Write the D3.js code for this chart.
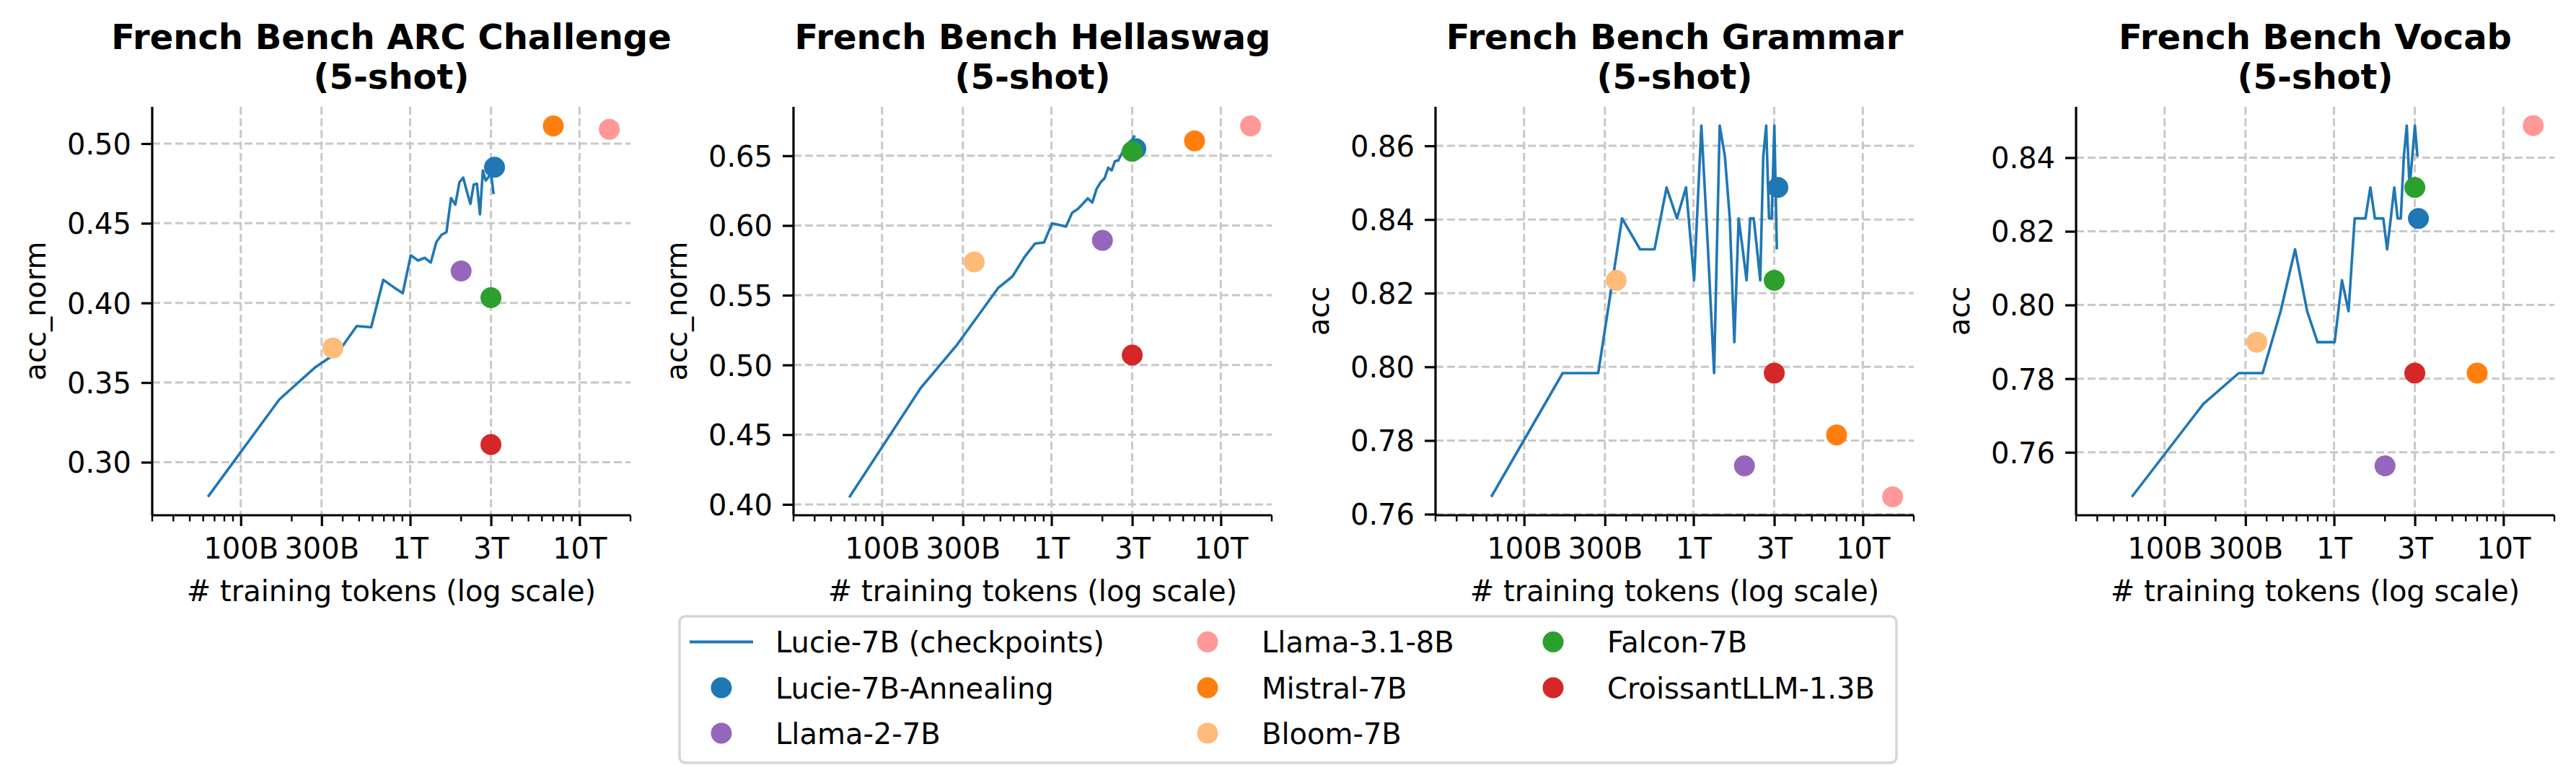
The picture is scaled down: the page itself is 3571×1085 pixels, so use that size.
<!DOCTYPE html>
<html>
<head>
<meta charset="utf-8">
<script src="https://cdn.jsdelivr.net/npm/d3@7"></script>
<style>
  body { margin: 0; background: #fff; }
  text { font-family: "DejaVu Sans", sans-serif; fill: #000; }
</style>
</head>
<body>
<svg id="chart" width="3571" height="1085"></svg>
<script>
'use strict';

// checkpoint positions, billions of tokens
const tokens = [64, 169, 274, 379, 484, 589, 694, 799, 904, 1009, 1114, 1219, 1324, 1429, 1534,
    1639, 1744, 1849, 1954, 2059, 2164, 2269, 2374, 2479, 2584, 2689, 2794, 2899, 3004, 3109];

const lucieArc = [0.2783, 0.3394, 0.3594, 0.3695, 0.3855, 0.3847, 0.4145, 0.4099, 0.4061, 0.4299,
    0.4266, 0.4283, 0.4253, 0.4383, 0.4428, 0.4444, 0.4658, 0.4617, 0.4757, 0.4786,
    0.4699, 0.4622, 0.4743, 0.4748, 0.4556, 0.4831, 0.4768, 0.4789, 0.4814, 0.4683];
const lucieHella = [0.405, 0.4834, 0.5137, 0.5372, 0.5551, 0.5635, 0.5774, 0.5870, 0.5878, 0.6015,
    0.6004, 0.5992, 0.6090, 0.6118, 0.6156, 0.6194, 0.6165, 0.6263, 0.6310, 0.6338,
    0.6414, 0.6395, 0.6462, 0.6466, 0.6508, 0.6551, 0.6579, 0.6598, 0.6617, 0.6645];
const lucieGrammar = [0.7647, 0.7983, 0.7983, 0.8403, 0.8319, 0.8319, 0.8487, 0.8403, 0.8487, 0.8235,
    0.8655, 0.8319, 0.7983, 0.8655, 0.8571, 0.8403, 0.8067, 0.8403, 0.8319, 0.8235,
    0.8403, 0.8403, 0.8319, 0.8235, 0.8571, 0.8655, 0.8403, 0.8403, 0.8655, 0.8319];
const lucieVocab = [0.7479, 0.7731, 0.7815, 0.7815, 0.7983, 0.8151, 0.7983, 0.7899, 0.7899, 0.7899,
    0.8067, 0.7983, 0.8235, 0.8235, 0.8235, 0.8319, 0.8235, 0.8235, 0.8235, 0.8151,
    0.8235, 0.8319, 0.8235, 0.8235, 0.8403, 0.8487, 0.8319, 0.8403, 0.8487, 0.8403];

// other models: name, tokens (B), score per benchmark [arc, hella, grammar, vocab]
const modelNames  = ['Lucie-7B-Annealing', 'Llama-2-7B', 'Llama-3.1-8B', 'Mistral-7B', 'Bloom-7B', 'Falcon-7B', 'CroissantLLM-1.3B'];
const modelTokens = [3150, 2000, 15000, 7000, 350, 3000, 3000];
const modelColors = ['#1f77b4', '#9467bd', '#ff9896', '#ff7f0e', '#ffbb78', '#2ca02c', '#d62728'];
const modelScores = [
    [0.4852, 0.6551, 0.8487, 0.8235],
    [0.4200, 0.5893, 0.7731, 0.7563],
    [0.5090, 0.6714, 0.7647, 0.8487],
    [0.5111, 0.6606, 0.7815, 0.7815],
    [0.3717, 0.5739, 0.8235, 0.7899],
    [0.4033, 0.6532, 0.8235, 0.8319],
    [0.3111, 0.5071, 0.7983, 0.7815]
];

const titles   = ['French Bench ARC Challenge', 'French Bench Hellaswag', 'French Bench Grammar', 'French Bench Vocab'];
const yLabels  = ['acc_norm', 'acc_norm', 'acc', 'acc'];
const lucie    = [lucieArc, lucieHella, lucieGrammar, lucieVocab];
const yDomains = [[0.2667, 0.5231], [0.3922, 0.6851], [0.7597, 0.8706], [0.7429, 0.8538]];
const yTicks   = [
    [0.30, 0.35, 0.40, 0.45, 0.50],
    [0.40, 0.45, 0.50, 0.55, 0.60, 0.65],
    [0.76, 0.78, 0.80, 0.82, 0.84, 0.86],
    [0.76, 0.78, 0.80, 0.82, 0.84]
];
const xTickVals   = [100, 300, 1000, 3000, 10000];
const xTickLabels = ['100B', '300B', '1T', '3T', '10T'];

const lefts = [211, 1100, 1990, 2878];
const W = 663, TOP = 148, H = 566;
const blue = '#1f77b4';

const svg = d3.select('#chart');

function drawPanel(p)
{
    const g = svg.append('g').attr('transform', 'translate(' + lefts[p] + ',' + TOP + ')');
    const x = d3.scaleLog().domain([30, 20000]).range([0, W]);
    const y = d3.scaleLinear().domain(yDomains[p]).range([H, 0]);

    // grid
    g.append('g').selectAll('line').data(xTickVals).enter().append('line')
        .attr('x1', d => x(d)).attr('x2', d => x(d)).attr('y1', 0).attr('y2', H)
        .attr('stroke', '#c8c8c8').attr('stroke-width', 3).attr('stroke-dasharray', '11,5');
    g.append('g').selectAll('line').data(yTicks[p]).enter().append('line')
        .attr('x1', 0).attr('x2', W).attr('y1', d => y(d)).attr('y2', d => y(d))
        .attr('stroke', '#c8c8c8').attr('stroke-width', 3).attr('stroke-dasharray', '11,5');

    // checkpoints line
    const line = d3.line().x((d, i) => x(tokens[i])).y(d => y(d));
    g.append('path').datum(lucie[p]).attr('d', line)
        .attr('fill', 'none').attr('stroke', blue).attr('stroke-width', 3.6)
        .attr('stroke-linejoin', 'round');

    // model dots
    g.append('g').selectAll('circle').data(modelNames).enter().append('circle')
        .attr('cx', (d, i) => x(modelTokens[i]))
        .attr('cy', (d, i) => y(modelScores[i][p]))
        .attr('r', 14.5)
        .attr('fill', (d, i) => modelColors[i]);

    // x axis
    const xAxis = d3.axisBottom(x).tickValues(xTickVals).tickFormat((d, i) => xTickLabels[i])
        .tickSize(15).tickPadding(14);
    const xg = g.append('g').attr('transform', 'translate(0,' + H + ')').call(xAxis);
    const minor = x.ticks().filter(d => xTickVals.indexOf(d) < 0);
    xg.selectAll('line.minor').data(minor).enter().append('line').attr('class', 'minor')
        .attr('x1', d => x(d)).attr('x2', d => x(d)).attr('y1', 0).attr('y2', 8.5)
        .attr('stroke', '#000').attr('stroke-width', 2.4);

    // y axis
    const yAxis = d3.axisLeft(y).tickValues(yTicks[p]).tickFormat(d3.format('.2f'))
        .tickSize(15).tickPadding(14);
    const yg = g.append('g').call(yAxis);

    [xg, yg].forEach(a => {
        a.select('.domain').attr('stroke', '#000').attr('stroke-width', 3.2);
        a.selectAll('.tick line').attr('stroke', '#000').attr('stroke-width', 3.2);
        a.selectAll('.tick text').attr('font-size', 40).attr('font-family', 'DejaVu Sans').attr('fill', '#000');
    });
    xg.select('.domain').attr('d', 'M0,0H' + W);
    yg.select('.domain').attr('d', 'M0,0V' + H);
    xg.selectAll('.tick text').attr('dy', null).attr('y', 29 + 31);
    yg.selectAll('.tick text').attr('dy', '0.36em');

    // labels
    g.append('text').attr('x', W / 2).attr('y', 833 - TOP).attr('text-anchor', 'middle')
        .attr('font-size', 40).text('# training tokens (log scale)');
    g.append('text').attr('transform', 'translate(-148,' + (H / 2) + ') rotate(-90)')
        .attr('text-anchor', 'middle').attr('font-size', 40).text(yLabels[p]);
    g.append('text').attr('x', W / 2).attr('y', 68 - TOP).attr('text-anchor', 'middle')
        .attr('font-size', 48).attr('font-weight', 'bold').text(titles[p]);
    g.append('text').attr('x', W / 2).attr('y', 122.5 - TOP).attr('text-anchor', 'middle')
        .attr('font-size', 48).attr('font-weight', 'bold').text('(5-shot)');
}

for (let p = 0; p < 4; p++) drawPanel(p);

// legend, column-major with 3 columns
const legendItems = ['Lucie-7B (checkpoints)'].concat(modelNames);
const legendColors = [blue].concat(modelColors);
const colX = [1000, 1674, 2153];
const rowY = [889.5, 953, 1016];

const leg = svg.append('g');
leg.append('rect').attr('x', 942).attr('y', 854).attr('width', 1687).attr('height', 203)
    .attr('rx', 8).attr('fill', '#fff').attr('stroke', '#d6d6d6').attr('stroke-width', 3.5);

legendItems.forEach((name, i) => {
    const c = Math.floor(i / 3), r = i % 3;
    const cx = colX[c], cy = rowY[r];
    if (i === 0)
    {
        leg.append('line').attr('x1', cx - 44).attr('x2', cx + 44).attr('y1', cy).attr('y2', cy)
            .attr('stroke', legendColors[i]).attr('stroke-width', 4);
    }
    else
    {
        leg.append('circle').attr('cx', cx).attr('cy', cy).attr('r', 14.5).attr('fill', legendColors[i]);
    }
    leg.append('text').attr('x', cx + 75).attr('y', cy + 14.5).attr('font-size', 40).text(name);
});
</script>
</body>
</html>
